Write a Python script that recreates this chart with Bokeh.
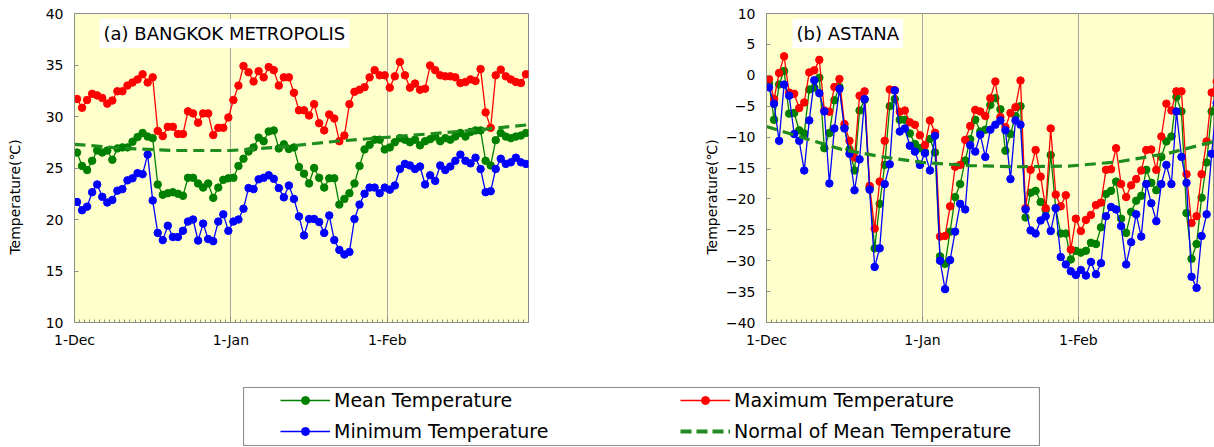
import numpy as np
from bokeh.plotting import figure
from bokeh.models import ColumnDataSource, FixedTicker, Label, Legend, LegendItem, Spacer
from bokeh.layouts import row, column
from bokeh.embed import file_html
from bokeh.resources import INLINE

# ---------------- data (1 Dec .. 28 Feb, daily) ----------------
tick_days = [0, 31, 62]
tick_labels = ["1-Dec", "1-Jan", "1-Feb"]

bkk_max = [31.7, 30.85, 31.6, 32.2, 32.05, 31.8, 31.25, 31.55, 32.45, 32.45,
           33.0, 33.3, 33.6, 34.1, 33.3, 33.8, 28.6, 28.1, 29.0, 29.0,
           28.3, 28.3, 30.5, 30.3, 29.4, 30.3, 30.3, 28.2, 28.9, 28.9,
           29.9, 31.6, 33.0, 34.9, 34.3, 33.4, 34.4, 33.8, 34.8, 34.5,
           33.0, 33.8, 33.8, 32.3, 30.6, 30.6, 30.1, 31.2, 29.35, 28.65,
           30.2, 29.8, 27.6, 28.15, 31.2, 32.4, 32.6, 32.85, 33.8, 34.5,
           34.0, 34.0, 32.8, 33.9, 35.3, 34.0, 32.8, 33.2, 32.6, 32.7,
           34.95, 34.5, 34.0, 33.9, 33.9, 33.8, 33.25, 33.35, 33.6, 33.45,
           34.6, 30.4, 28.9, 34.0, 34.55, 33.9, 33.6, 33.35, 33.25, 34.1]
bkk_mean = [26.5, 25.2, 24.8, 25.7, 26.7, 26.5, 26.7, 25.8, 26.9, 27.0,
            27.0, 27.55, 28.0, 28.4, 28.05, 27.9, 23.4, 22.4, 22.55, 22.65,
            22.5, 22.3, 24.05, 24.05, 23.5, 23.1, 23.5, 22.1, 23.1, 23.85,
            24.0, 24.05, 25.2, 25.9, 26.6, 27.0, 27.95, 27.6, 28.55, 28.65,
            26.9, 27.3, 26.85, 27.0, 25.1, 24.45, 23.5, 25.0, 24.05, 23.1,
            24.0, 24.0, 21.45, 22.0, 22.55, 23.5, 25.2, 26.8, 27.25, 27.75,
            27.75, 26.8, 27.0, 27.5, 27.9, 27.75, 27.5, 27.75, 27.2, 27.6,
            27.8, 28.05, 27.6, 27.9, 27.75, 28.05, 28.4, 28.05, 28.5, 28.65,
            28.65, 25.7, 25.25, 27.7, 28.4, 28.05, 27.9, 28.05, 28.15, 28.4]
bkk_min = [21.7, 20.9, 21.25, 22.65, 23.4, 22.2, 21.65, 21.9, 22.8, 22.95,
           23.8, 24.0, 24.5, 24.4, 26.3, 21.85, 18.7, 18.0, 19.4, 18.3,
           18.3, 18.9, 19.8, 20.0, 17.95, 19.6, 18.1, 17.9, 19.8, 20.5,
           18.9, 19.8, 20.0, 21.05, 23.05, 22.95, 23.9, 24.05, 24.3, 23.95,
           23.05, 22.15, 23.3, 22.0, 20.3, 18.45, 20.05, 20.05, 19.75, 18.7,
           20.4, 18.0, 17.05, 16.6, 16.85, 20.05, 21.45, 22.5, 23.1, 23.1,
           22.55, 23.1, 22.9, 23.3, 24.9, 25.4, 25.25, 24.9, 25.15, 23.4,
           24.3, 23.75, 25.25, 24.8, 25.15, 25.7, 26.3, 25.7, 25.45, 26.0,
           24.9, 22.65, 22.75, 24.9, 25.9, 25.4, 25.55, 26.0, 25.55, 25.4]
bkk_normal_days = [0, 10, 20, 31, 40, 52, 60, 70, 80, 90]
bkk_normal = [27.3, 26.9, 26.7, 26.7, 27.0, 27.6, 27.9, 28.3, 28.7, 29.2]

ast_max = [-0.6, -3.85, 0.37, 3.07, -2.8, -3.0, -5.3, -4.4, 0.47, 0.8,
           2.5, -5.7, -5.9, -1.9, -0.6, -7.9, -10.6, -13.3, -3.3, -2.6,
           -17.9, -24.8, -17.2, -10.6, -2.3, -2.4, -5.9, -5.7, -7.6, -8.0,
           -9.7, -11.3, -7.3, -9.3, -26.1, -26.0, -21.2, -14.8, -14.5, -10.45,
           -8.2, -5.6, -5.85, -6.6, -3.7, -1.0, -6.75, -8.4, -6.1, -5.15,
           -0.85, -21.5, -15.3, -12.1, -16.4, -21.5, -8.6, -19.3, -21.2, -19.4,
           -28.2, -23.2, -25.2, -23.4, -22.6, -21.0, -20.6, -15.3, -15.2, -11.8,
           -17.6, -19.7, -17.8, -16.8, -15.4, -12.1, -12.0, -15.3, -9.9, -4.6,
           -5.7, -2.6, -2.6, -16.0, -23.9, -22.8, -16.0, -10.7, -2.8, -1.0]
ast_mean = [-1.3, -7.2, -1.5, 0.7, -6.2, -6.1, -8.9, -9.4, -2.3, -2.0,
            -0.4, -11.8, -9.35, -4.05, -1.9, -8.4, -12.0, -15.4, -5.7, -3.95,
            -18.2, -28.0, -20.8, -14.5, -5.0, -3.85, -7.2, -7.2, -9.4, -11.1,
            -11.8, -12.4, -10.3, -12.5, -29.3, -30.5, -25.3, -19.7, -17.6, -13.8,
            -10.35, -7.2, -9.1, -8.8, -4.8, -3.7, -5.5, -12.2, -9.5, -6.6,
            -5.0, -23.0, -19.0, -18.7, -20.5, -21.8, -12.9, -21.5, -25.6, -25.6,
            -29.8, -28.4, -28.7, -28.4, -27.1, -27.3, -24.6, -19.2, -18.7, -17.2,
            -23.2, -25.5, -22.1, -20.3, -19.5, -15.3, -17.4, -18.6, -13.2, -10.7,
            -9.9, -3.5, -5.85, -22.3, -29.7, -27.3, -19.8, -14.1, -5.85, -3.0]
ast_min = [-1.96, -4.6, -10.6, -1.5, -3.3, -9.5, -10.6, -15.4, -7.3, -0.8,
           -2.9, -5.85, -17.5, -8.6, -2.2, -8.6, -12.7, -18.6, -13.6, -3.85,
           -18.5, -31.0, -28.0, -17.6, -14.4, -2.45, -9.1, -8.6, -11.4, -12.35,
           -14.5, -12.6, -15.4, -9.8, -30.0, -34.6, -29.9, -25.3, -20.8, -21.7,
           -11.3, -12.35, -9.6, -13.2, -8.8, -8.0, -7.3, -8.9, -16.8, -7.3,
           -8.0, -21.7, -25.1, -25.6, -23.5, -22.8, -25.2, -21.5, -29.4, -30.6,
           -31.7, -32.3, -31.5, -32.4, -30.2, -32.2, -30.4, -22.8, -21.3, -21.7,
           -24.4, -30.6, -27.0, -22.5, -26.1, -17.6, -20.7, -23.6, -17.6, -14.5,
           -17.6, -5.85, -13.2, -17.4, -32.6, -34.4, -26.0, -22.5, -12.7, -4.5]
ast_normal_days = [0, 8, 15, 23, 31, 40, 50, 60, 70, 80, 90]
ast_normal = [-8.3, -10.3, -12.0, -13.2, -14.1, -14.6, -14.8, -14.7, -14.0, -12.6, -10.5]

C_MEAN, C_MAX, C_MIN = "#008000", "#FF0000", "#0000FF"
C_NORM = "#1E8C1E"
FONT = "DejaVu Sans"
NB = "\u00a0"
days = np.arange(len(bkk_max)) + 0.5


def panel(title, vmax, vmean, vmin, ndays, nvals, yr, yticks, width, mleft, mright,
          xend, lab_standoff, title_x):
    src = ColumnDataSource(dict(x=days, tmax=vmax, tmean=vmean, tmin=vmin))
    p = figure(width=width, height=387, x_range=(0, xend), y_range=yr,
               output_backend="svg", toolbar_location=None,
               min_border_left=mleft, min_border_right=mright,
               min_border_top=13, min_border_bottom=65)
    p.background_fill_color = "#FFFFCC"
    p.border_fill_color = "white"
    p.outline_line_color = "#8C8C8C"
    p.outline_line_width = 1
    p.ygrid.visible = False
    p.xgrid.ticker = FixedTicker(ticks=tick_days[1:])
    p.xgrid.grid_line_color = "#A8A8A8"
    p.xgrid.grid_line_width = 1

    xa = p.xaxis[0]
    xa.ticker = FixedTicker(ticks=tick_days, minor_ticks=list(range(0, 91)))
    xa.major_label_overrides = {d: l for d, l in zip(tick_days, tick_labels)}
    xa.major_tick_in = 6
    xa.major_tick_out = 0
    xa.minor_tick_in = 3
    xa.minor_tick_out = 0
    xa.major_label_standoff = 9
    xa.minor_tick_line_color = "#8C8C8C"
    ya = p.yaxis[0]
    ya.ticker = FixedTicker(ticks=yticks)
    ya.major_tick_in = 4
    ya.major_tick_out = 0
    ya.minor_tick_line_color = None
    ya.major_label_standoff = 11
    ya.axis_label = "Temperature(℃)" + NB * 13
    ya.axis_label_text_font = FONT
    ya.axis_label_text_font_size = "14px"
    ya.axis_label_text_font_style = "normal"
    ya.axis_label_text_color = "#000000"
    ya.axis_label_standoff = lab_standoff
    for ax in (xa, ya):
        ax.axis_line_color = "#8C8C8C"
        ax.major_tick_line_color = "#8C8C8C"
        ax.major_label_text_font = FONT
        ax.major_label_text_font_size = "14px"
        ax.major_label_text_color = "#000000"

    p.line("x", "tmean", source=src, color=C_MEAN, line_width=1.3)
    p.scatter("x", "tmean", source=src, color=C_MEAN, size=7.5)
    p.line("x", "tmax", source=src, color=C_MAX, line_width=1.3)
    p.scatter("x", "tmax", source=src, color=C_MAX, size=7.5)
    p.line("x", "tmin", source=src, color=C_MIN, line_width=1.3)
    p.scatter("x", "tmin", source=src, color=C_MIN, size=7.5)
    p.line(ndays, nvals, color=C_NORM, line_width=3.2, line_dash="11 6")

    p.add_layout(Label(x=title_x, y=289, x_units="screen", y_units="screen", text=title,
                       text_font=FONT, text_font_size="18px", text_baseline="middle",
                       text_color="#000000", background_fill_color="white",
                       padding=4))
    return p


p1 = panel("(a) BANGKOK METROPOLIS", bkk_max, bkk_mean, bkk_min, bkk_normal_days,
           bkk_normal, (10, 40), [10, 15, 20, 25, 30, 35, 40], 640, 74, 112, 90, 20, 25)
p2 = panel("(b) ASTANA", ast_max, ast_mean, ast_min, ast_normal_days, ast_normal,
           (-40, 10), [-40, -35, -30, -25, -20, -15, -10, -5, 0, 5, 10], 574, 126, 0,
           448 / 5.03, 3, 26)

# ---------------- legend box ----------------
lg = figure(width=797, height=59, x_range=(0, 1), y_range=(0, 1),
            output_backend="svg", toolbar_location=None,
            min_border=0, min_border_left=0, min_border_right=0,
            min_border_top=0, min_border_bottom=0)
lg.axis.visible = False
lg.grid.visible = False
lg.outline_line_color = "#8C8C8C"
lg.outline_line_width = 1.2
lg.background_fill_color = "white"

hx, hy = [-10.0, -9.0], [-10.0, -10.0]
r_mean = [lg.line(hx, hy, color=C_MEAN, line_width=1.3), lg.scatter(hx, hy, color=C_MEAN, size=9)]
r_max = [lg.line(hx, hy, color=C_MAX, line_width=1.3), lg.scatter(hx, hy, color=C_MAX, size=9)]
r_min = [lg.line(hx, hy, color=C_MIN, line_width=1.3), lg.scatter(hx, hy, color=C_MIN, size=9)]
r_norm = [lg.line(hx, hy, color=C_NORM, line_width=4, line_dash="11 5")]

legend_names = ["Mean Temperature", "Maximum Temperature",
                "Minimum Temperature", "Normal of Mean Temperature"]


def mk_legend(items, x):
    L = Legend(items=items, location=(x, 4), orientation="vertical",
               glyph_width=50, glyph_height=20, label_height=20, label_standoff=4,
               spacing=9, padding=0, margin=0, border_line_alpha=0,
               background_fill_alpha=0, label_text_font=FONT,
               label_text_font_size="19px", label_text_color="#000000")
    lg.add_layout(L, "center")


mk_legend([LegendItem(label=legend_names[0], renderers=r_mean),
           LegendItem(label=legend_names[2], renderers=r_min)], 37)
mk_legend([LegendItem(label=legend_names[1], renderers=r_max),
           LegendItem(label=legend_names[3], renderers=r_norm)], 437)

layout = column(row(p1, p2), row(Spacer(width=243, height=59), lg))

open("out.html", "w").write(file_html(layout, INLINE))
